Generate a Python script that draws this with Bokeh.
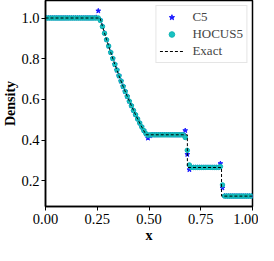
from bokeh.plotting import figure
from bokeh.models import FixedTicker, NumeralTickFormatter, Range1d, Legend, LegendItem
from bokeh.embed import file_html
from bokeh.resources import INLINE

# cell centres (100 cells on [0, 1])
x_cells = [
    0.005, 0.015, 0.025, 0.035, 0.045, 0.055, 0.065, 0.075, 0.085, 0.095,
    0.105, 0.115, 0.125, 0.135, 0.145, 0.155, 0.165, 0.175, 0.185, 0.195,
    0.205, 0.215, 0.225, 0.235, 0.245, 0.255, 0.265, 0.275, 0.285, 0.295,
    0.305, 0.315, 0.325, 0.335, 0.345, 0.355, 0.365, 0.375, 0.385, 0.395,
    0.405, 0.415, 0.425, 0.435, 0.445, 0.455, 0.465, 0.475, 0.485, 0.495,
    0.505, 0.515, 0.525, 0.535, 0.545, 0.555, 0.565, 0.575, 0.585, 0.595,
    0.605, 0.615, 0.625, 0.635, 0.645, 0.655, 0.665, 0.675, 0.685, 0.695,
    0.705, 0.715, 0.725, 0.735, 0.745, 0.755, 0.765, 0.775, 0.785, 0.795,
    0.805, 0.815, 0.825, 0.835, 0.845, 0.855, 0.865, 0.875, 0.885, 0.895,
    0.905, 0.915, 0.925, 0.935, 0.945, 0.955, 0.965, 0.975, 0.985, 0.995,
]

rho_c5 = [
    1.0, 1.0, 1.0, 1.0, 1.0, 1.0, 1.0, 1.0, 1.0, 1.0,
    1.0, 1.0, 1.0, 1.0, 1.0, 1.0, 1.0, 1.0, 1.0, 1.0,
    1.0, 1.0, 1.0, 1.0, 1.003, 1.035, 0.990, 0.960, 0.926, 0.893,
    0.862, 0.831, 0.801, 0.772, 0.744, 0.716, 0.690, 0.664, 0.639, 0.615,
    0.591, 0.569, 0.546, 0.525, 0.504, 0.484, 0.465, 0.447, 0.431, 0.410,
    0.422, 0.427, 0.426, 0.426, 0.426, 0.426, 0.426, 0.426, 0.426, 0.426,
    0.426, 0.426, 0.426, 0.426, 0.426, 0.426, 0.428, 0.447, 0.330, 0.255,
    0.267, 0.266, 0.266, 0.266, 0.266, 0.266, 0.266, 0.266, 0.266, 0.266,
    0.266, 0.266, 0.266, 0.266, 0.285, 0.165, 0.126, 0.125, 0.125, 0.125,
    0.125, 0.125, 0.125, 0.125, 0.125, 0.125, 0.125, 0.125, 0.125, 0.125,
]

rho_hocus5 = [
    1.0, 1.0, 1.0, 1.0, 1.0, 1.0, 1.0, 1.0, 1.0, 1.0,
    1.0, 1.0, 1.0, 1.0, 1.0, 1.0, 1.0, 1.0, 1.0, 1.0,
    1.0, 1.0, 1.0, 1.0, 1.0, 1.0, 0.988, 0.958, 0.925, 0.893,
    0.862, 0.831, 0.801, 0.772, 0.744, 0.716, 0.690, 0.664, 0.639, 0.615,
    0.591, 0.569, 0.546, 0.525, 0.504, 0.484, 0.465, 0.447, 0.432, 0.424,
    0.426, 0.426, 0.426, 0.426, 0.426, 0.426, 0.426, 0.426, 0.426, 0.426,
    0.426, 0.426, 0.426, 0.426, 0.426, 0.426, 0.426, 0.413, 0.350, 0.278,
    0.266, 0.266, 0.266, 0.266, 0.266, 0.266, 0.266, 0.266, 0.266, 0.266,
    0.266, 0.266, 0.266, 0.266, 0.270, 0.180, 0.125, 0.125, 0.125, 0.125,
    0.125, 0.125, 0.125, 0.125, 0.125, 0.125, 0.125, 0.125, 0.125, 0.125,
]

x_exact = [0.0, 0.2634, 0.275, 0.295, 0.315, 0.335, 0.355, 0.375, 0.395, 0.415,
           0.435, 0.455, 0.475, 0.4859, 0.6854, 0.6854, 0.8504, 0.8504, 1.0]
rho_exact = [1.0, 1.0, 0.960, 0.893, 0.831, 0.772, 0.716, 0.664, 0.615, 0.569,
             0.525, 0.484, 0.446, 0.4263, 0.4263, 0.2656, 0.2656, 0.125, 0.125]

x_ticks = [0.0, 0.25, 0.5, 0.75, 1.0]
y_ticks = [0.2, 0.4, 0.6, 0.8, 1.0]

FONT = "Liberation Serif"

p = figure(width=258, height=245, output_backend="svg", toolbar_location=None,
           x_range=Range1d(0.0, 1.0), y_range=Range1d(0.074, 1.086),
           min_border_left=34, min_border_right=6, min_border_top=0, min_border_bottom=30)

p.grid.visible = False
p.outline_line_color = "black"
p.outline_line_width = 1.5
p.background_fill_color = "white"

r_c5 = p.scatter(x_cells, rho_c5, marker="star", size=5, fill_color="#1a1aff", line_color="#1a1aff")
r_h = p.scatter(x_cells, rho_hocus5, marker="circle", size=4.5, fill_color="#17c2c2", line_color="#10b4b4")
r_ex = p.line(x_exact, rho_exact, line_color="black", line_width=1, line_dash="3 2")

for ax in (p.xaxis[0], p.yaxis[0]):
    ax.axis_line_color = "black"
    ax.axis_line_width = 1.5
    ax.major_tick_line_color = "black"
    ax.major_tick_line_width = 1
    ax.major_tick_out = 4
    ax.major_tick_in = 0
    ax.minor_tick_line_color = None
    ax.major_label_text_font = FONT
    ax.major_label_text_font_size = "14.5px"
    ax.major_label_text_color = "black"
    ax.major_label_standoff = 3
    ax.major_label_text_line_height = 0.9
    ax.axis_label_text_font = FONT
    ax.axis_label_text_font_size = "14px"
    ax.axis_label_text_font_style = "bold"
    ax.axis_label_text_color = "black"
    ax.axis_label_text_line_height = 0.8
    ax.axis_label_standoff = 1

p.yaxis[0].axis_label_standoff = 0
p.yaxis[0].major_label_standoff = 2

p.xaxis[0].ticker = FixedTicker(ticks=x_ticks)
p.yaxis[0].ticker = FixedTicker(ticks=y_ticks)
p.xaxis[0].formatter = NumeralTickFormatter(format="0.00")
p.yaxis[0].formatter = NumeralTickFormatter(format="0.0")
p.xaxis[0].axis_label = "x"
p.yaxis[0].axis_label = "Density"

legend = Legend(items=[
    LegendItem(label="C5", renderers=[r_c5]),
    LegendItem(label="HOCUS5", renderers=[r_h]),
    LegendItem(label="Exact", renderers=[r_ex]),
], location="top_right")
legend.label_text_font = FONT
legend.label_text_font_size = "13px"
legend.glyph_width = 24
legend.glyph_height = 14
legend.label_standoff = 9
legend.padding = 3
legend.spacing = 1
legend.margin = 5
legend.border_line_color = "#cccccc"
legend.border_line_width = 1
legend.background_fill_alpha = 0.8
p.add_layout(legend)

open("out.html", "w").write(file_html(p, INLINE))
